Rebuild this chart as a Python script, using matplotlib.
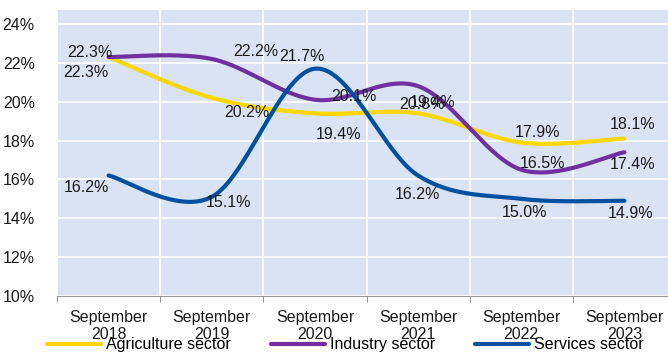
import numpy as np
import matplotlib
matplotlib.use("Agg")
import matplotlib.pyplot as plt

plt.rcParams['font.family'] = ['Liberation Sans', 'DejaVu Sans']

categories = ["September\n2018", "September\n2019", "September\n2020",
              "September\n2021", "September\n2022", "September\n2023"]
agriculture = [22.3, 20.2, 19.4, 19.4, 17.9, 18.1]
industry = [22.3, 22.2, 20.1, 20.8, 16.5, 17.4]
services = [16.2, 15.1, 21.7, 16.2, 15.0, 14.9]
series_names = ["Agriculture sector", "Industry sector", "Services sector"]
yticks = [10, 12, 14, 16, 18, 20, 22, 24]

colors = ["#FFD700", "#7030A0", "#0050A0"]
# label offsets in pixels (dx, dy with y downward)
offsets = [
    [(-23, 15), (35, 15), (24, 21), (14, -11), (16, -10), (8, -14)],
    [(-19, -5), (44, -7), (39, -3), (4, 18), (21, -6), (8, 12)],
    [(-22, 12), (17, 6), (-13, -12), (-1, 19), (3, 14), (6, 13)],
]


def smooth(xs, ys, n=40):
    """Excel-like smoothed line (Catmull-Rom Bezier)."""
    P = np.column_stack([xs, ys]).astype(float)
    out = []
    m = len(P)
    for i in range(m - 1):
        p0 = P[i - 1] if i > 0 else P[i]
        p1 = P[i]
        p2 = P[i + 1]
        p3 = P[i + 2] if i + 2 < m else P[i + 1]
        c1 = p1 + (p2 - p0) / 6.0
        c2 = p2 - (p3 - p1) / 6.0
        t = np.linspace(0, 1, n)[:, None]
        seg = ((1 - t) ** 3) * p1 + 3 * ((1 - t) ** 2) * t * c1 + 3 * (1 - t) * t ** 2 * c2 + t ** 3 * p2
        out.append(seg if i == 0 else seg[1:])
    s = np.vstack(out)
    return s[:, 0], s[:, 1]


fig = plt.figure(figsize=(6.68, 3.52), dpi=100)
ax = fig.add_axes([57 / 668, 1 - 296 / 352, 619 / 668, 286 / 352])
ax.set_facecolor("#DAE3F3")

x = np.arange(len(categories))
data = [agriculture, industry, services]
handles = []
for vals, col, name in zip(data, colors, series_names):
    sx, sy = smooth(x, vals)
    h, = ax.plot(sx, sy, color=col, lw=3.0, solid_capstyle='round', label=name, zorder=3)
    handles.append(h)

for vals, offs in zip(data, offsets):
    for xi, v, (dx, dy) in zip(x, vals, offs):
        ax.annotate(f"{v:.1f}%", (xi, v), xytext=(dx, -dy), textcoords='offset pixels',
                    ha='center', va='center', fontsize=11.5, color='#1a1a1a', zorder=4)

ax.set_xlim(-0.5, len(categories) - 0.5)
ax.set_ylim(10, 24.72)
ax.set_yticks(yticks)
ax.set_yticklabels([f"{t}%" for t in yticks], fontsize=11.5, color='#1a1a1a')
ax.tick_params(axis='y', length=0, pad=16)

ax.set_xticks(np.arange(len(categories) + 1) - 0.5, minor=False)
ax.set_xticklabels([])
ax.set_xticks(x, minor=True)
ax.set_xticklabels(categories, minor=True, fontsize=11.5, color='#1a1a1a', linespacing=1.2)
ax.tick_params(axis='x', which='major', length=4, color='#999999', direction='out')
ax.tick_params(axis='x', which='minor', length=0, pad=10)

ax.grid(True, which='major', axis='both', color='white', lw=1.2, zorder=0)
ax.set_axisbelow(True)
for s in ['top', 'right', 'left']:
    ax.spines[s].set_visible(False)
ax.spines['bottom'].set_color('#999999')

fig.legend(handles=handles, loc='center', bbox_to_anchor=(0.517, 0.02), ncol=3,
           frameon=False, fontsize=11.5, handlelength=3.4, handletextpad=0.3,
           columnspacing=2.5, borderpad=0)

fig.savefig("out.png", dpi=100)
